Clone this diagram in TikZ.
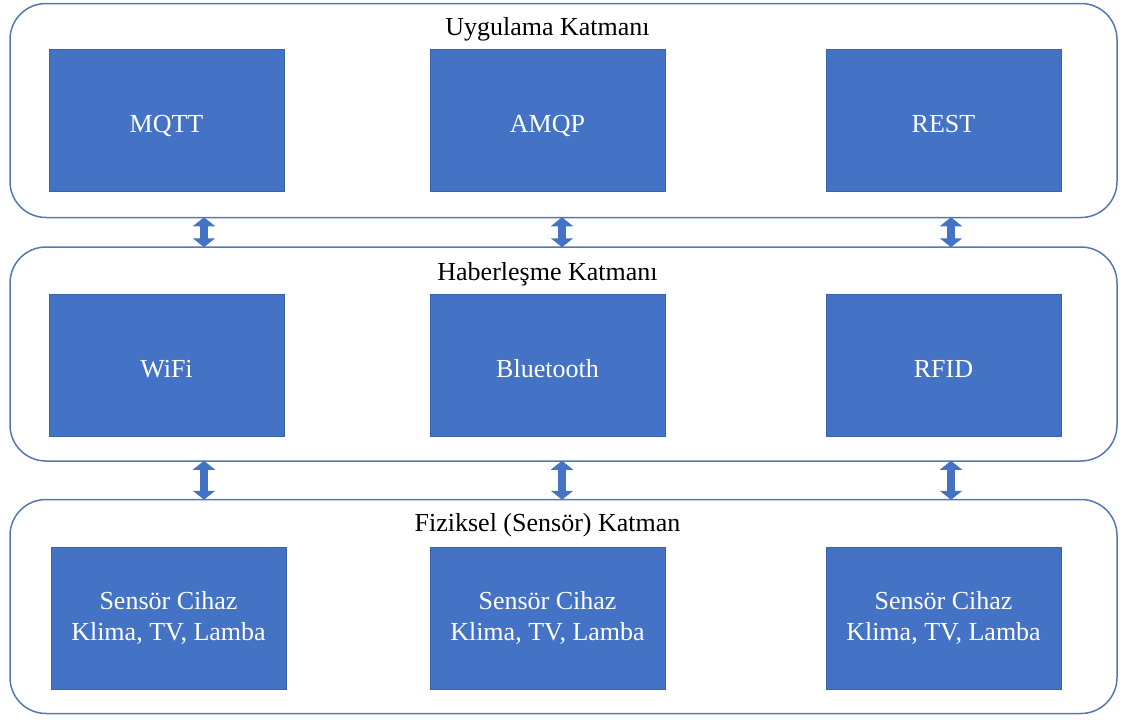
\documentclass[tikz,border=0pt]{standalone}
\usepackage{fontspec}
\setmainfont{Liberation Serif}
\usepackage{tikz}
\usetikzlibrary{calc}
\usetikzlibrary{arrows.meta}
\definecolor{boxblue}{HTML}{4472C4}
\definecolor{boxedge}{HTML}{3A62A8}
\definecolor{layeredge}{HTML}{5578B4}

\begin{document}
\begin{tikzpicture}[x=1pt,y=-1pt,
  layer/.style={draw=layeredge, line width=1.5pt, rounded corners=36pt, minimum width=1107pt, minimum height=214pt},
  block/.style={draw=boxedge, line width=0.8pt, fill=boxblue, text=white, minimum width=235pt, minimum height=142pt, align=center, font=\fontsize{26}{31}\selectfont},
  oneline/.style={block, text height=24pt, text depth=0pt},
  title/.style={font=\fontsize{26}{31}\selectfont},
  updown/.style={fill=boxblue, line width=8pt, {Triangle[width=22pt,length=9pt]}-{Triangle[width=22pt,length=9pt]}, shorten <=-1pt, shorten >=-1pt}]
\useasboundingbox (0,0) rectangle (1122,720);

% layers
\node [layer] (app) at (563.5,110.5) {};
\node [layer] (com) at (563.5,354) {};
\node [layer] (phy) at (563.5,606.5) {};

% application layer
\node [oneline] (mqtt) at (166.5,120) {MQTT};
\node [oneline] (amqp) at (547.5,120) {AMQP};
\node [oneline] (rest) at (943.5,120) {REST};
\node [title] (app_t) at ($(amqp.north)+(0,-19)$) {Uygulama Katmanı};

% communication layer
\node [oneline] (wifi) at (166.5,365) {WiFi};
\node [oneline] (bt) at (547.5,365) {Bluetooth};
\node [oneline] (rfid) at (943.5,365) {RFID};
\node [title] (com_t) at ($(bt.north)+(0,-19)$) {Haberleşme Katmanı};

% physical layer
\node [block] (dev_a) at (168.5,618) {Sensör Cihaz\\Klima, TV, Lamba};
\node [block] (dev_b) at (547.5,618) {Sensör Cihaz\\Klima, TV, Lamba};
\node [block] (dev_c) at (943.5,618) {Sensör Cihaz\\Klima, TV, Lamba};
\node [title] (phy_t) at ($(dev_b.north)+(0,-21)$) {Fiziksel (Sensör) Katman};

% arrows between layers
\foreach \xa in {204,562,951}{
  \draw [updown, draw=boxblue] (app.south -| \xa,0) -- (com.north -| \xa,0);
  \draw [updown, draw=boxblue] (com.south -| \xa,0) -- (phy.north -| \xa,0);
}

\end{tikzpicture}
\end{document}
